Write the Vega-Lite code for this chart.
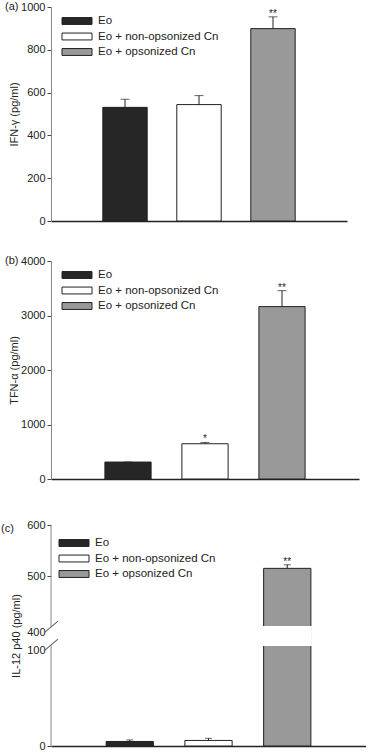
{
  "$schema": "https://vega.github.io/schema/vega-lite/v6.json",
  "padding": {"left": 1, "top": 1, "right": 0, "bottom": 0},
  "background": "white",
  "datasets": {
    "bars": [
      {"panel": "a", "group": "Eo", "value": 531, "upper": 569, "sig": ""},
      {"panel": "a", "group": "Eo + non-opsonized Cn", "value": 544, "upper": 586, "sig": ""},
      {"panel": "a", "group": "Eo + opsonized Cn", "value": 899, "upper": 954, "sig": "**"},
      {"panel": "b", "group": "Eo", "value": 311, "upper": 311, "sig": ""},
      {"panel": "b", "group": "Eo + non-opsonized Cn", "value": 647, "upper": 671, "sig": "*"},
      {"panel": "b", "group": "Eo + opsonized Cn", "value": 3163, "upper": 3456, "sig": "**"},
      {"panel": "c", "group": "Eo", "value": 4.5, "upper": 6, "sig": ""},
      {"panel": "c", "group": "Eo + non-opsonized Cn", "value": 5.5, "upper": 7.6, "sig": ""},
      {"panel": "c", "group": "Eo + opsonized Cn", "value": 515, "upper": 522, "sig": "**"}
    ]
  },
  "data": {"name": "bars"},
  "columns": 1,
  "align": "none",
  "bounds": "full",
  "spacing": 29,
  "resolve": {"scale": {"color": "independent", "x": "independent", "y": "independent"}, "legend": {"color": "independent"}},
  "concat": [
    {
      "width": 296,
      "height": 214,
      "title": {"text": "(a)", "anchor": "start", "frame": "group", "dx": -46, "offset": 0, "dy": 17, "baseline": "middle"},
      "transform": [{"filter": "datum.panel === 'a'"}],
      "encoding": {
        "x": {"field": "group", "type": "nominal", "sort": null, "scale": {"paddingInner": 0.4, "paddingOuter": 0.7}, "axis": {"title": null, "labels": false, "ticks": false, "domainColor": "#222", "domainWidth": 1.3}}
      },
      "layer": [
        {
          "mark": {"type": "bar", "stroke": "#222", "strokeWidth": 1},
          "encoding": {
            "y": {"field": "value", "type": "quantitative", "scale": {"domain": [0, 1000], "nice": false}, "axis": {"values": [0, 200, 400, 600, 800, 1000], "format": "d", "title": "IFN-γ (pg/ml)", "titlePadding": 1}},
            "color": {"field": "group", "type": "nominal", "sort": null, "scale": {"domain": ["Eo", "Eo + non-opsonized Cn", "Eo + opsonized Cn"], "range": ["#262626", "#ffffff", "#999999"]}, "legend": {"title": null, "orient": "none", "legendX": 18, "legendY": 6}}
          }
        },
        {"mark": {"type": "rule", "color": "#222", "strokeWidth": 1}, "encoding": {"y": {"field": "value", "type": "quantitative"}, "y2": {"field": "upper"}}},
        {"mark": {"type": "tick", "size": 9, "thickness": 1, "color": "#222"}, "encoding": {"y": {"field": "upper", "type": "quantitative"}}},
        {"mark": {"type": "text", "fontSize": 10, "color": "#222", "baseline": "alphabetic"}, "encoding": {"y": {"field": "upper", "type": "quantitative"}, "text": {"field": "sig"}}}
      ]
    },
    {
      "width": 308,
      "height": 218,
      "title": {"text": "(b)", "anchor": "start", "frame": "group", "dx": -46, "offset": 0, "dy": 17, "baseline": "middle"},
      "transform": [{"filter": "datum.panel === 'b'"}],
      "encoding": {
        "x": {"field": "group", "type": "nominal", "sort": null, "scale": {"paddingInner": 0.4, "paddingOuter": 0.7}, "axis": {"title": null, "labels": false, "ticks": true, "tickSize": 5, "tickColor": "#ffffff", "tickWidth": 0.5, "domainColor": "#222", "domainWidth": 1.3}}
      },
      "layer": [
        {
          "mark": {"type": "bar", "stroke": "#222", "strokeWidth": 1},
          "encoding": {
            "y": {"field": "value", "type": "quantitative", "scale": {"domain": [0, 4000], "nice": false}, "axis": {"values": [0, 1000, 2000, 3000, 4000], "format": "d", "title": "TFN-α (pg/ml)", "titlePadding": 1}},
            "color": {"field": "group", "type": "nominal", "sort": null, "scale": {"domain": ["Eo", "Eo + non-opsonized Cn", "Eo + opsonized Cn"], "range": ["#262626", "#ffffff", "#999999"]}, "legend": {"title": null, "orient": "none", "legendX": 18, "legendY": 6}}
          }
        },
        {"mark": {"type": "rule", "color": "#222", "strokeWidth": 1}, "encoding": {"y": {"field": "value", "type": "quantitative"}, "y2": {"field": "upper"}}},
        {"mark": {"type": "tick", "size": 9, "thickness": 1, "color": "#222"}, "encoding": {"y": {"field": "upper", "type": "quantitative"}}},
        {"mark": {"type": "text", "fontSize": 10, "color": "#222", "baseline": "alphabetic"}, "encoding": {"y": {"field": "upper", "type": "quantitative"}, "text": {"field": "sig"}}}
      ]
    },
    {
      "width": 315,
      "height": 221,
      "title": {"text": ["", "(c)"], "anchor": "start", "frame": "group", "dx": -50, "offset": 0, "dy": 14.5, "baseline": "top", "lineHeight": 8.4},
      "resolve": {"scale": {"x": "independent"}, "axis": {"x": "independent"}},
      "layer": [
        {
          "transform": [{"filter": "datum.panel === 'c'"}],
          "encoding": {
            "x": {"field": "group", "type": "nominal", "sort": null, "scale": {"paddingInner": 0.4, "paddingOuter": 0.7}, "axis": {"title": null, "labels": false, "ticks": false, "domainColor": "#222", "domainWidth": 1.3}}
          },
          "layer": [
            {
              "mark": {"type": "bar", "stroke": "#222", "strokeWidth": 1},
              "encoding": {
                "y": {"field": "value", "type": "quantitative", "scale": {"domain": [0, 100, 400, 600], "range": [221, 120, 102, 0], "nice": false, "zero": false},
                  "axis": {"values": [0, 100, 400, 500, 600], "format": "d", "title": "IL-12 p40 (pg/ml)", "titlePadding": 5, "domain": false,
                    "tickOpacity": {"condition": {"test": "datum.value === 100 || datum.value === 400", "value": 0}, "value": 1},
                    "labelOffset": {"condition": {"test": "datum.value === 100 || datum.value === 400", "value": 5}, "value": 0}}},
                "color": {"field": "group", "type": "nominal", "sort": null, "scale": {"domain": ["Eo", "Eo + non-opsonized Cn", "Eo + opsonized Cn"], "range": ["#262626", "#ffffff", "#999999"]}, "legend": {"title": null, "orient": "none", "legendX": 15, "legendY": 10}}
              }
            },
            {"mark": {"type": "bar", "fill": "white", "stroke": "white", "strokeWidth": 2}, "encoding": {"y": {"datum": 100, "type": "quantitative"}, "y2": {"datum": 400}}},
            {"mark": {"type": "rule", "color": "#222", "strokeWidth": 1}, "encoding": {"y": {"field": "value", "type": "quantitative"}, "y2": {"field": "upper"}}},
            {"mark": {"type": "tick", "size": 7, "thickness": 1, "color": "#222"}, "encoding": {"y": {"field": "upper", "type": "quantitative"}}},
            {"mark": {"type": "text", "fontSize": 10, "color": "#222", "baseline": "alphabetic"}, "encoding": {"y": {"field": "upper", "type": "quantitative"}, "text": {"field": "sig"}}}
          ]
        },
        {
          "data": {"values": [{"lo": 0, "hi": 100}, {"lo": 400, "hi": 600}]},
          "mark": {"type": "rule", "color": "#888", "strokeWidth": 1},
          "encoding": {
            "x": {"datum": 0, "type": "quantitative", "scale": {"domain": [0, 1]}, "axis": null},
            "y": {"field": "lo", "type": "quantitative", "title": "IL-12 p40 (pg/ml)"},
            "y2": {"field": "hi"}
          }
        },
        {
          "data": {"values": [{"brk": 100}, {"brk": 400}]},
          "mark": {"type": "point", "shape": "M-1,0.85L1,-0.85", "filled": false, "stroke": "#666", "strokeWidth": 1.1, "size": 196, "opacity": 1},
          "encoding": {
            "x": {"datum": 0, "type": "quantitative", "scale": {"domain": [0, 1]}, "axis": null},
            "y": {"field": "brk", "type": "quantitative", "title": "IL-12 p40 (pg/ml)"}
          }
        }
      ]
    }
  ],
  "config": {
    "view": {"stroke": null},
    "font": "Liberation Sans",
    "title": {"fontSize": 11, "fontWeight": "normal", "color": "#222", "font": "Liberation Sans"},
    "axis": {"labelFont": "Liberation Sans", "labelFontSize": 11, "labelColor": "#222", "titleFont": "Liberation Sans", "titleFontSize": 11, "titleFontWeight": "normal", "titleColor": "#222", "grid": false, "tickSize": 4, "tickColor": "#444", "labelPadding": 2},
    "axisY": {"domainColor": "#888"},
    "legend": {"symbolType": "M-2,-0.46H2V0.46H-2Z", "symbolSize": 225, "symbolStrokeColor": "#222", "symbolStrokeWidth": 1, "labelFont": "Liberation Sans", "labelFontSize": 11.5, "labelColor": "#222", "labelOffset": 13, "rowPadding": 1.5, "padding": 0, "labelLimit": 300}
  }
}
